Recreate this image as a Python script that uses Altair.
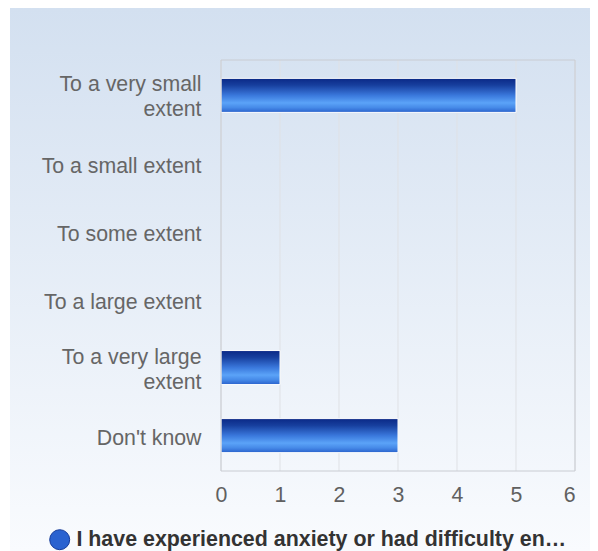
import altair as alt
import pandas as pd

categories = ["To a very small extent", "To a small extent", "To some extent",
              "To a large extent", "To a very large extent", "Don't know"]
values = [5, 0, 0, 0, 1, 3]
series_name = "I have experienced anxiety or had difficulty en…"
x_ticks = [0, 1, 2, 3, 4, 5, 6]

df = pd.DataFrame({"category": categories, "value": values, "series": series_name})
ticks_df = pd.DataFrame({"tick": x_ticks})

FONT = "Liberation Sans"
W, H = 354, 411
PL, PT, PR, PB = 213, 52, 15, 80

bar_grad = alt.Gradient(
    gradient="linear", x1=0, x2=0, y1=0, y2=1,
    stops=[
        alt.GradientStop(offset=0, color="#0a2886"),
        alt.GradientStop(offset=0.2, color="#173f9e"),
        alt.GradientStop(offset=0.5, color="#3a78dc"),
        alt.GradientStop(offset=0.72, color="#5ba3f8"),
        alt.GradientStop(offset=0.86, color="#468ae8"),
        alt.GradientStop(offset=1, color="#2a62cc"),
    ],
)

bg_grad = alt.Gradient(
    gradient="linear", x1=0, x2=0, y1=0, y2=1,
    stops=[
        alt.GradientStop(offset=0, color="#d3e0f0"),
        alt.GradientStop(offset=1, color="#f9fbfe"),
    ],
)

bg = alt.Chart(pd.DataFrame({"a": [0]})).mark_rect(fill=bg_grad).encode(
    x=alt.value(-(PL - 2)), x2=alt.value(W + PR),
    y=alt.value(-PT), y2=alt.value(H + PB),
)

grid = alt.Chart(ticks_df).mark_rule(color="#dfe1e5", strokeWidth=1).encode(
    x=alt.X("tick:Q"),
)

label_expr = (
    "datum.value == 'To a very small extent' ? ['To a very small', 'extent'] : "
    "datum.value == 'To a very large extent' ? ['To a very large', 'extent'] : datum.value"
)

x_enc = alt.X("value:Q", scale=alt.Scale(domain=[0, 6], nice=False),
              axis=alt.Axis(values=x_ticks, format="d", title=None, ticks=False,
                            domain=False, labelPadding=13, labelFontSize=21.3,
                            labelColor="#606060", labelFont=FONT, grid=False,
                            labelFlush=False,
                            labelAlign={"condition": {"test": "datum.value == 6",
                                                      "value": "right"}, "value": "center"},
                            labelOffset={"condition": {"test": "datum.value == 6",
                                                       "value": 0}, "value": 0},
                            zindex=2))
y_enc = alt.Y("category:N", sort=categories,
              scale=alt.Scale(paddingInner=0.5, paddingOuter=0.27),
              axis=alt.Axis(title=None, ticks=False, domain=False, labelPadding=20,
                            labelFontSize=21.3, labelColor="#666666", labelFont=FONT,
                            labelExpr=label_expr, labelLineHeight=25, labelLimit=300,
                            labelOffset={"condition": {"test": "indexof(datum.value, 'very') >= 0",
                                                       "value": -10}, "value": 3.5},
                            zindex=2))

bars = alt.Chart(df).transform_filter("datum.value > 0").mark_bar(
    color=bar_grad, stroke="white", strokeWidth=1).encode(x=x_enc, y=y_enc)

border = alt.Chart(pd.DataFrame({"a": [0]})).mark_rect(
    fillOpacity=0, stroke="#c9ccd2", strokeWidth=1).encode(
    x=alt.value(0), x2=alt.value(W), y=alt.value(0), y2=alt.value(H),
)

legend_layer = alt.Chart(df).mark_point(filled=True, opacity=0, shape="circle").encode(
    x=alt.X("value:Q"), y=alt.Y("category:N", sort=categories),
    color=alt.Color("series:N", scale=alt.Scale(range=["#2a62d0"]),
                    legend=alt.Legend(title=None, orient="none", legendX=-172, legendY=469,
                                      symbolType="circle", symbolSize=400,
                                      symbolOpacity=1, symbolStrokeColor="#143a9a",
                                      symbolStrokeWidth=1,
                                      labelFontSize=21.4, labelFontWeight="bold",
                                      labelColor="#333333", labelFont=FONT,
                                      labelOffset=6, labelLimit=700, padding=0,
                                      zindex=2)),
)

chart = alt.layer(bg, grid, bars, border, legend_layer).properties(
    width=W, height=H,
    padding={"left": PL, "top": PT, "right": PR, "bottom": PB},
    autosize=alt.AutoSizeParams(type="none"),
).configure(background="white").configure_view(stroke=None)

chart.save("out.html", embed_options={"renderer": "svg", "actions": False})
